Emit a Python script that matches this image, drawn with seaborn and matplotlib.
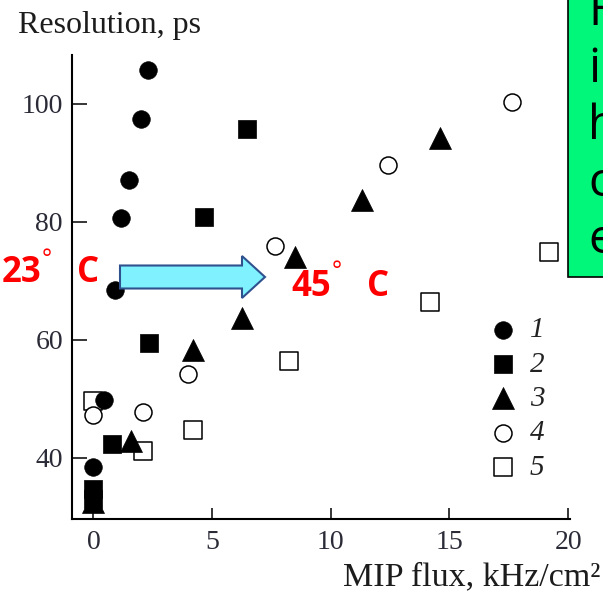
import matplotlib
matplotlib.use("Agg")
import matplotlib.pyplot as plt
import matplotlib.patches as mpatches
import seaborn as sns
import pandas as pd

# Time resolution vs MIP flux for five chamber configurations
s1_x = [0.0, 0.45, 0.9, 1.15, 1.5, 2.0, 2.3]
s1_y = [38.5, 49.8, 68.5, 80.7, 87.1, 97.5, 105.8]

s2_x = [0.0, 0.0, 0.8, 2.35, 4.65, 6.45]
s2_y = [33.0, 34.8, 42.4, 59.5, 80.8, 95.7]

s3_x = [0.0, 1.6, 4.2, 6.25, 8.5, 11.3, 14.6]
s3_y = [32.6, 42.8, 58.3, 63.7, 74.1, 83.8, 94.2]

s4_x = [0.0, 2.1, 4.0, 7.65, 12.4, 17.65]
s4_y = [47.3, 47.8, 54.2, 75.9, 89.7, 100.3]

s5_x = [0.0, 2.1, 4.2, 8.25, 14.2, 19.2]
s5_y = [49.7, 41.2, 44.7, 56.4, 66.4, 74.9]

series_labels = ["1", "2", "3", "4", "5"]
x_ticks = [0, 5, 10, 15, 20]
y_ticks = [40, 60, 80, 100]

W, H = 603, 599
sns.set_style("ticks")
plt.rcParams["font.family"] = ["Liberation Serif", "DejaVu Serif"]

fig = plt.figure(figsize=(W / 100, H / 100), dpi=100)
L, R, B, T = 72, 570, 519, 55
ax = fig.add_axes([L / W, 1 - B / H, (R - L) / W, (B - T) / H])

frames = []
for lab, xs, ys in zip(series_labels, [s1_x, s2_x, s3_x, s4_x, s5_x],
                       [s1_y, s2_y, s3_y, s4_y, s5_y]):
    frames.append(pd.DataFrame({"flux": xs, "res": ys, "set": lab}))
df = pd.concat(frames, ignore_index=True)

styles = {
    "1": dict(marker="o", s=160, color="black", edgecolor="black", linewidth=0.5, zorder=7),
    "2": dict(marker="s", s=175, color="black", edgecolor="black", linewidth=0.5, zorder=6),
    "3": dict(marker="^", s=250, color="black", edgecolor="black", linewidth=0.5, zorder=5),
    "4": dict(marker="o", s=150, color="white", edgecolor="black", linewidth=1.1, zorder=4),
    "5": dict(marker="s", s=165, color="white", edgecolor="black", linewidth=1.1, zorder=3),
}
for lab in series_labels:
    sub = df[df["set"] == lab]
    sns.scatterplot(data=sub, x="flux", y="res", ax=ax, label=lab, **styles[lab])

ax.set_xlim(-0.906, 20.08)
ax.set_ylim(29.66, 108.3)
ax.set_xticks(x_ticks)
ax.set_yticks(y_ticks)
ax.set_xticklabels([str(v) for v in x_ticks])
ax.set_yticklabels([str(v) for v in y_ticks])

for side in ("top", "right"):
    ax.spines[side].set_visible(False)
for side in ("left", "bottom"):
    ax.spines[side].set_linewidth(1.5)
    ax.spines[side].set_color("black")

ax.tick_params(axis="y", direction="in", length=10.8, width=1.1, pad=6.5,
               labelsize=20, labelcolor="#2b2b38", color="black")
ax.tick_params(axis="x", direction="in", length=8, width=1.1, pad=8,
               labelsize=20, labelcolor="#2b2b38", color="black")

ax.set_ylabel("Resolution, ps", rotation=0, fontsize=23, color="#1c1c1c",
              ha="center", va="center")
ax.yaxis.set_label_coords((109 - L) / (R - L), (B - 25) / (B - T))
ax.set_xlabel("MIP flux, kHz/cm²", fontsize=24.5, color="#1c1c1c",
              ha="right", va="center")
ax.xaxis.set_label_coords((600 - L) / (R - L), (B - 577) / (B - T))

leg = ax.legend(loc="upper left", bbox_to_anchor=(489 / W, 1 - 317 / H),
                bbox_transform=fig.transFigure, frameon=False,
                prop={"family": "Liberation Serif", "style": "italic", "size": 21},
                handlelength=0.95, handletextpad=0.45, labelspacing=0.27,
                borderpad=0, borderaxespad=0, scatterpoints=1)
for t in leg.get_texts():
    t.set_color("#222222")


def px(x, y):
    return (x / W, 1 - y / H)


# temperature annotation arrow
cy = 277
body_half, head_half = 11.5, 21
x0, xb, xt = 120, 242, 265
arrow_pts = [px(x0, cy - body_half), px(xb, cy - body_half), px(xb, cy - head_half),
             px(xt, cy), px(xb, cy + head_half), px(xb, cy + body_half),
             px(x0, cy + body_half)]
fig.patches.append(mpatches.Polygon(arrow_pts, closed=True, transform=fig.transFigure,
                                    facecolor="#80F2FF", edgecolor="#2F528F",
                                    linewidth=1.5, zorder=10))

red = "#FF0000"
sans = ["Open Sans", "DejaVu Sans"]
fig.text(*px(2, 273.5), "23", color=red, fontsize=25, fontweight="bold",
         family=sans, ha="left", va="center")
fig.text(*px(42, 260), "°", color=red, fontsize=17, family=sans, ha="left", va="center")
fig.text(*px(77, 273.5), "C", color=red, fontsize=25, fontweight="bold",
         family=sans, ha="left", va="center")
fig.text(*px(291, 286.5), "45", color=red, fontsize=25, fontweight="bold",
         family=sans, ha="left", va="center")
fig.text(*px(332, 272), "°", color=red, fontsize=17, family=sans, ha="left", va="center")
fig.text(*px(367, 287), "C", color=red, fontsize=25, fontweight="bold",
         family=sans, ha="left", va="center")

# side note box
box_l, box_b = 568, 277
fig.patches.append(mpatches.Rectangle(px(box_l, box_b), (640 - box_l) / W, (box_b + 20) / H,
                                      transform=fig.transFigure, facecolor="#00F77A",
                                      edgecolor="black", linewidth=1.2, zorder=10))
for line, base in zip(["H", "in", "h", "c", "e"], [25, 82, 139, 196, 253]):
    fig.text(*px(588, base), line, fontsize=34, family=sans, color="black",
             ha="left", va="baseline", zorder=11)

fig.savefig("out.png", dpi=100)
